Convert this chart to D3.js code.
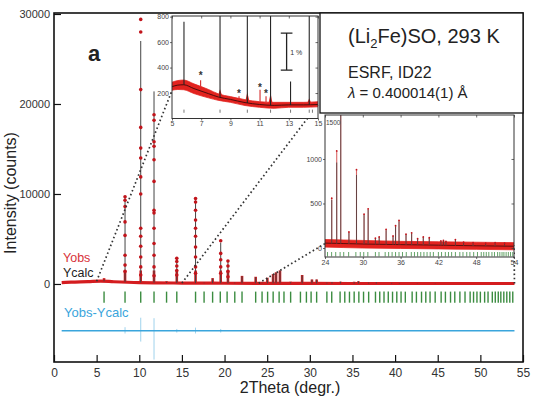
<html>
<head>
    <meta charset="utf-8">
    <title>(Li2Fe)SO powder pattern</title>
</head>
<style>
    body { margin: 0; background: #fff; }
    text { font-family: "Liberation Sans", Arial, sans-serif; }
</style>
<body>
<svg width="539" height="397"></svg>
<script src="https://d3js.org/d3.v7.min.js" charset="utf-8"></script>
<script>

    // ---------- main pattern ----------
    var xTicks = [0, 5, 10, 15, 20, 25, 30, 35, 40, 45, 50, 55];
    var yTicks = [0, 10000, 20000, 30000];

    var bgX   = [0.9, 2, 4, 5.5, 7, 10, 15, 20, 30, 40, 54];
    var bgObs = [150, 200, 260, 320, 250, 150, 100, 80, 60, 50, 50];

    var peakPos  = [5.87, 8.33, 10.17, 11.73, 13.2, 14.4, 16.6, 17.6, 18.6, 19.55, 20.4, 21.2, 22.05, 23.65, 24.4, 25.02, 25.69, 26.04, 26.5, 27.75, 29.1, 30.25, 30.8, 32.0, 32.6, 33.6, 35.2, 35.7, 36.9, 37.8, 39.6, 40.5, 42.6, 44.7];
    var peakCalc = [500, 9800, 27000, 21400, 250, 2800, 9300, 150, 600, 4600, 2450, 150, 850, 750, 150, 650, 1050, 1250, 1500, 200, 950, 480, 480, 150, 200, 250, 200, 300, 150, 180, 120, 100, 80, 90];
    var peakObs  = [650, 9700, 29400, 18800, 300, 2850, 9500, 200, 650, 4800, 2550, 200, 900, 800, 200, 700, 1100, 1300, 1550, 250, 1000, 500, 500, 200, 220, 250, 250, 300, 150, 180, 120, 100, 80, 90];

    // observed points read on the flanks of the strong peaks
    var dotPos  = [8.33, 10.17, 11.73, 14.4, 16.6, 19.55, 20.4];
    var dotVals = [
        [9700, 9300, 8600, 6900, 5400, 3200, 2100, 1400],
        [29400, 28000, 21600, 17400, 15100, 14000, 11900, 10000, 6200, 5300, 4200, 3000, 1900, 1000],
        [18800, 18200, 15800, 15300, 13800, 11400, 8200, 7900, 6200, 4500, 3200, 1900, 900],
        [2850, 2500, 2000, 1500, 1000],
        [9500, 9100, 8200, 7100, 6200, 5300, 4100, 3000, 1900, 1200],
        [4800, 3400, 2700, 1900, 1200],
        [2550, 2000, 1400, 800]
    ];

    // difference curve (offset) and its spikes
    var diffOffset = -5200;
    var diffX   = [0.9, 54];
    var diffPos = [8.33, 10.17, 11.73, 14.4, 16.6, 19.55];
    var diffUp  = [400, 1450, 1400, 200, 350, 200];
    var diffDn  = [-300, -1200, -3200, -200, -300, -200];

    // Bragg reflection markers
    var reflPos = [5.87, 8.33, 10.17, 11.73, 13.2, 14.4, 16.6, 17.6, 18.6, 19.5, 20.3, 21.2, 22.05, 23.65, 24.4, 25.05, 25.7, 26.4, 26.97, 27.75,
        28.9, 29.6, 30.15, 30.8, 32.0, 32.57, 33.55, 34.1, 34.65, 35.2, 35.75, 36.3, 36.9, 37.7, 38.2, 38.7, 39.2, 39.7, 40.2, 40.7, 41.2,
        42.0, 42.5, 43.1, 43.6, 44.1, 44.7, 45.4, 45.9, 46.5, 47.0, 47.6, 48.2, 48.8, 49.2, 49.6, 50.0, 50.5, 50.9,
        51.4, 51.75, 52.1, 52.4, 52.75, 53.1, 53.45, 53.8];

    // ---------- inset 1 (5-15 deg) ----------
    var in1XTicks = [5, 7, 9, 11, 13, 15];
    var in1YTicks = [200, 400, 600, 800];
    var in1BandX  = [5, 5.4, 5.8, 6.5, 7.5, 8.2, 9, 10, 11, 12, 13, 14, 15];
    var in1BandHi = [285, 298, 302, 272, 228, 192, 172, 148, 132, 127, 127, 127, 132];
    var in1BandLo = [222, 228, 226, 196, 162, 142, 127, 102, 88, 80, 88, 88, 92];
    var in1Calc   = [250, 262, 265, 235, 195, 168, 150, 125, 110, 103, 107, 107, 110];
    var in1Pos    = [5.82, 8.29, 10.16, 11.75, 13.12, 14.4];
    var in1H      = [760, 900, 900, 900, 290, 900];
    var in1BumpPos = [8.29, 10.16, 11.75, 14.4];
    var in1BumpH   = [50, 70, 80, 40];
    var in1StarPos = [6.96, 9.59, 11.03, 11.44];
    var in1StarTop = [300, 175, 225, 175];
    var in1StarY   = [340, 200, 245, 197];
    var in1Refl    = [5.82, 8.29, 10.16, 11.75, 13.12, 14.4, 14.62];

    // ---------- inset 2 (24-54 deg) ----------
    var in2XTicks = [24, 30, 36, 42, 48, 54];
    var in2YTicks = [0, 500, 1000];
    var in2BandX  = [24, 27, 30, 36, 42, 48, 54];
    var in2BandHi = [95, 90, 85, 75, 70, 65, 60];
    var in2BandLo = [10, 5, 0, -5, -10, -15, -20];
    var in2Calc   = [55, 50, 45, 38, 32, 25, 20];
    var in2Pos  = [25.07, 25.86, 26.5, 27.8, 29.0, 30.2, 30.85, 32.0, 32.6, 33.7, 34.8, 35.2, 35.75, 36.86, 37.75, 38.7, 39.6, 40.55, 42.4, 42.8, 43.2, 44.7, 46.0, 47.5, 49.5, 51.0, 52.5];
    var in2CalcH = [540, 960, 1600, 170, 820, 370, 430, 100, 120, 200, 130, 240, 300, 150, 165, 100, 120, 110, 75, 80, 70, 90, 60, 55, 50, 55, 50];
    var in2ObsH  = [560, 1090, 1600, 180, 880, 380, 440, 110, 125, 210, 135, 250, 310, 155, 170, 105, 125, 115, 80, 85, 75, 95, 65, 60, 55, 60, 55];

    var RED = '#d41c1f', DOT = '#c1141b', BLK = '#262626', GRN = '#3b8c40', BLU = '#3aa5dc';
    var FONT = '"Liberation Sans", Arial, sans-serif';
    var fmt = d3.format('d');

    function interp(xs, ys, p) {
        var i = d3.bisectRight(xs, p);
        if (i <= 0) return ys[0];
        if (i >= xs.length) return ys[ys.length - 1];
        var t = (p - xs[i - 1]) / (xs[i] - xs[i - 1]);
        return ys[i - 1] + t * (ys[i] - ys[i - 1]);
    }

    var svg = d3.select('svg');
    var x = d3.scaleLinear().domain([0, 55]).range([54, 523]);
    var y = d3.scaleLinear().domain([-8670, 30110]).range([362, 13]);

    // axes (ticks inward)
    var gx = svg.append('g').attr('transform', 'translate(0,362)');
    gx.call(d3.axisBottom(x).tickValues(d3.range(1, 55)).tickSize(-3.5).tickFormat(''));
    gx.call(d3.axisBottom(x).tickValues(xTicks).tickSize(-7).tickPadding(6).tickFormat(fmt));
    var gy = svg.append('g').attr('transform', 'translate(54,0)');
    gy.call(d3.axisLeft(y).tickValues(d3.range(1000, 30001, 1000)).tickSize(-3).tickFormat(''));
    gy.call(d3.axisLeft(y).tickValues([5000, 15000, 25000]).tickSize(-5).tickFormat(''));
    gy.call(d3.axisLeft(y).tickValues(yTicks).tickSize(-7).tickPadding(4).tickFormat(fmt));
    svg.selectAll('.domain').remove();
    svg.selectAll('.tick line').attr('stroke', '#111').attr('stroke-width', 1.2);
    gx.selectAll('text').attr('font-size', 12).attr('fill', '#333').attr('font-family', FONT);
    gy.selectAll('text').attr('font-size', 11).attr('fill', '#333').attr('font-family', FONT);

    svg.append('rect')
        .attr('x', x(0)).attr('y', y(30110))
        .attr('width', x(55) - x(0)).attr('height', y(-8670) - y(30110))
        .attr('fill', 'none').attr('stroke', '#111').attr('stroke-width', 1.6);

    // reflection markers
    svg.append('g').selectAll('line').data(reflPos).enter().append('line')
        .attr('x1', d => x(d)).attr('x2', d => x(d))
        .attr('y1', y(-850)).attr('y2', y(-2080))
        .attr('stroke', GRN).attr('stroke-width', 1.4);

    // difference curve
    svg.append('line')
        .attr('x1', x(diffX[0])).attr('x2', x(diffX[1]))
        .attr('y1', y(diffOffset)).attr('y2', y(diffOffset))
        .attr('stroke', BLU).attr('stroke-width', 1.7);
    svg.append('g').selectAll('line').data(diffPos).enter().append('line')
        .attr('x1', d => x(d)).attr('x2', d => x(d))
        .attr('y1', (d, i) => y(diffOffset + diffUp[i]))
        .attr('y2', (d, i) => y(diffOffset + diffDn[i]))
        .attr('stroke', BLU).attr('stroke-width', 0.8).attr('opacity', 0.6);

    // observed baseline
    var bgPts = bgX.map((d, i) => [d, bgObs[i]]);
    svg.append('path')
        .attr('d', d3.line().x(d => x(d[0])).y(d => y(d[1])).curve(d3.curveMonotoneX)(bgPts))
        .attr('fill', 'none').attr('stroke', RED).attr('stroke-width', 3.2);

    // observed peak bodies
    svg.append('g').selectAll('line').data(peakPos).enter().append('line')
        .attr('x1', d => x(d)).attr('x2', d => x(d))
        .attr('y1', d => y(interp(bgX, bgObs, d)))
        .attr('y2', (d, i) => y(Math.min(peakObs[i], 1500)))
        .attr('stroke', RED).attr('stroke-width', 2.6);

    // calculated peaks
    svg.append('g').selectAll('line').data(peakPos).enter().append('line')
        .attr('x1', d => x(d)).attr('x2', d => x(d))
        .attr('y1', d => y(interp(bgX, bgObs, d)))
        .attr('y2', (d, i) => y(peakCalc[i]))
        .attr('stroke', '#444').attr('stroke-width', 1);

    // observed points on strong peaks
    dotPos.forEach(function (p, k) {
        svg.append('g').selectAll('circle').data(dotVals[k]).enter().append('circle')
            .attr('cx', x(p)).attr('cy', d => y(d)).attr('r', 1.8)
            .attr('fill', DOT);
    });

    // ---------- dotted zoom lines (under insets) ----------
    var ix1 = d3.scaleLinear().domain([5, 15]).range([172, 318]);
    var iy1 = d3.scaleLinear().domain([0, 805]).range([118.5, 16]);
    var ix2 = d3.scaleLinear().domain([24, 54]).range([325, 514]);
    var iy2 = d3.scaleLinear().domain([-101, 1494]).range([257, 115]);

    var zoomLines = [
        [x(5), y(300), ix1(5), iy1(220)],
        [x(15), y(100), ix1(15), iy1(110)],
        [x(24), y(80), ix2(24), iy2(50)],
        [x(54), y(50), ix2(54), iy2(30)]
    ];
    svg.append('g').selectAll('line').data(zoomLines).enter().append('line')
        .attr('x1', d => d[0]).attr('y1', d => d[1]).attr('x2', d => d[2]).attr('y2', d => d[3])
        .attr('stroke', '#333').attr('stroke-width', 1.7).attr('stroke-dasharray', '1.6,2.6');

    // ---------- labels ----------
    svg.append('text').attr('x', 88).attr('y', 61).attr('font-size', 22).attr('font-weight', 'bold')
        .attr('fill', '#222').text('a');
    svg.append('text').attr('x', 63).attr('y', 262).attr('font-size', 12.5).attr('fill', '#d8323a').text('Yobs');
    svg.append('text').attr('x', 63).attr('y', 277).attr('font-size', 12.5).attr('fill', '#222').text('Ycalc');
    svg.append('text').attr('x', 64).attr('y', 317).attr('font-size', 13).attr('fill', BLU).text('Yobs-Ycalc');
    svg.append('text').attr('transform', 'translate(16,193) rotate(-90)').attr('text-anchor', 'middle')
        .attr('font-size', 16).attr('fill', '#222').text('Intensity (counts)');
    svg.append('text').attr('x', 290).attr('y', 393).attr('text-anchor', 'middle')
        .attr('font-size', 16).attr('fill', '#222').text('2Theta (degr.)');

    // annotation box
    svg.append('rect').attr('x', 320).attr('y', 13).attr('width', 203).attr('height', 100)
        .attr('fill', '#fff').attr('stroke', '#111').attr('stroke-width', 1.3);
    var t1 = svg.append('text').attr('x', 348).attr('y', 43).attr('font-size', 20).attr('fill', '#222');
    t1.append('tspan').text('(Li');
    t1.append('tspan').attr('font-size', 13).attr('dy', 5).text('2');
    t1.append('tspan').attr('dy', -5).text('Fe)SO, 293 K');
    svg.append('text').attr('x', 348).attr('y', 78).attr('font-size', 16).attr('fill', '#222').text('ESRF, ID22');
    var t3 = svg.append('text').attr('x', 348).attr('y', 98).attr('font-size', 15).attr('fill', '#222');
    t3.append('tspan').attr('font-style', 'italic').text('λ');
    t3.append('tspan').text(' = 0.400014(1) Å');

    // ---------- inset helper ----------
    function insetFrame(id, ix, iy, xt, yt) {
        var g = svg.append('g');
        var x0 = ix.range()[0], x1 = ix.range()[1], y0 = iy.range()[1], y1 = iy.range()[0];
        g.append('rect').attr('x', x0).attr('y', y0).attr('width', x1 - x0).attr('height', y1 - y0).attr('fill', '#fff');
        svg.append('clipPath').attr('id', id).append('rect')
            .attr('x', x0).attr('y', y0).attr('width', x1 - x0).attr('height', y1 - y0);
        var body = g.append('g').attr('clip-path', 'url(#' + id + ')');
        var ax = g.append('g');
        ax.append('g').attr('transform', 'translate(0,' + y1 + ')').call(d3.axisBottom(ix).tickValues(xt).tickSize(2).tickPadding(1).tickFormat(fmt));
        ax.append('g').attr('transform', 'translate(0,' + y0 + ')').call(d3.axisTop(ix).tickValues(xt).tickSize(-2.5).tickFormat(''));
        ax.append('g').attr('transform', 'translate(' + x0 + ',0)').call(d3.axisLeft(iy).tickValues(yt).tickSize(2).tickPadding(1).tickFormat(fmt));
        ax.append('g').attr('transform', 'translate(' + x1 + ',0)').call(d3.axisRight(iy).tickValues(yt).tickSize(-2.5).tickFormat(''));
        ax.selectAll('.domain').remove();
        ax.selectAll('.tick line').attr('stroke', '#444').attr('stroke-width', 0.8);
        ax.selectAll('text').attr('font-size', 7).attr('fill', '#444').attr('font-family', FONT);
        g.append('rect').attr('x', x0).attr('y', y0).attr('width', x1 - x0).attr('height', y1 - y0)
            .attr('fill', 'none').attr('stroke', '#333').attr('stroke-width', 1);
        return body;
    }

    // ---------- inset 1 ----------
    var b1 = insetFrame('clip1', ix1, iy1, in1XTicks, in1YTicks);
    var band1 = in1BandX.map((d, i) => ({x: d, lo: in1BandLo[i], hi: in1BandHi[i], c: in1Calc[i]}));
    b1.append('path')
        .attr('d', d3.area().x(d => ix1(d.x)).y0(d => iy1(d.lo)).y1(d => iy1(d.hi)).curve(d3.curveMonotoneX)(band1))
        .attr('fill', '#e2231f').attr('stroke', '#e2231f').attr('stroke-width', 0.8);
    b1.append('g').selectAll('path').data(in1BumpPos).enter().append('path')
        .attr('d', function (d, i) {
            var base = interp(in1BandX, in1BandHi, d) - 10;
            return 'M' + ix1(d - 0.14) + ',' + iy1(base) + 'L' + ix1(d) + ',' + iy1(base + in1BumpH[i]) + 'L' + ix1(d + 0.14) + ',' + iy1(base) + 'Z';
        })
        .attr('fill', '#e2231f');
    b1.append('path')
        .attr('d', d3.line().x(d => ix1(d.x)).y(d => iy1(d.c)).curve(d3.curveMonotoneX)(band1))
        .attr('fill', 'none').attr('stroke', '#3a0a0a').attr('stroke-width', 0.9);
    b1.append('g').selectAll('line').data(in1Pos).enter().append('line')
        .attr('x1', d => ix1(d)).attr('x2', d => ix1(d))
        .attr('y1', d => iy1(interp(in1BandX, in1Calc, d)))
        .attr('y2', (d, i) => iy1(in1H[i]))
        .attr('stroke', BLK).attr('stroke-width', 1.1);
    b1.append('g').selectAll('line').data(in1StarPos).enter().append('line')
        .attr('x1', d => ix1(d)).attr('x2', d => ix1(d))
        .attr('y1', d => iy1(interp(in1BandX, in1BandHi, d)))
        .attr('y2', (d, i) => iy1(in1StarTop[i]))
        .attr('stroke', '#d42a2a').attr('stroke-width', 1.1);
    b1.append('g').selectAll('text').data(in1StarPos).enter().append('text')
        .attr('x', d => ix1(d)).attr('y', (d, i) => iy1(in1StarY[i]) + 4)
        .attr('text-anchor', 'middle').attr('font-size', 10).attr('font-weight', 'bold').attr('fill', '#333')
        .text('*');
    b1.append('g').selectAll('line').data(in1Refl).enter().append('line')
        .attr('x1', d => ix1(d)).attr('x2', d => ix1(d))
        .attr('y1', iy1(45)).attr('y2', iy1(70))
        .attr('stroke', '#555').attr('stroke-width', 0.8);
    // 1 % scale bar
    b1.append('path')
        .attr('d', 'M' + ix1(12.45) + ',' + iy1(670) + 'H' + ix1(13.25) +
            'M' + ix1(12.85) + ',' + iy1(670) + 'V' + iy1(380) +
            'M' + ix1(12.45) + ',' + iy1(380) + 'H' + ix1(13.25))
        .attr('fill', 'none').attr('stroke', '#222').attr('stroke-width', 1.3);
    b1.append('text').attr('x', ix1(13.1)).attr('y', iy1(525) + 3)
        .attr('font-size', 7).attr('fill', '#333').text('1 %');

    // ---------- inset 2 ----------
    var b2 = insetFrame('clip2', ix2, iy2, in2XTicks, in2YTicks);
    var band2 = in2BandX.map((d, i) => ({x: d, lo: in2BandLo[i], hi: in2BandHi[i], c: in2Calc[i]}));
    b2.append('path')
        .attr('d', d3.area().x(d => ix2(d.x)).y0(d => iy2(d.lo)).y1(d => iy2(d.hi)).curve(d3.curveMonotoneX)(band2))
        .attr('fill', '#e2231f').attr('stroke', '#e2231f').attr('stroke-width', 0.8);
    b2.append('path')
        .attr('d', d3.line().x(d => ix2(d.x)).y(d => iy2(d.c)).curve(d3.curveMonotoneX)(band2))
        .attr('fill', 'none').attr('stroke', '#3a0a0a').attr('stroke-width', 0.8);
    b2.append('g').selectAll('line').data(in2Pos).enter().append('line')
        .attr('x1', d => ix2(d)).attr('x2', d => ix2(d))
        .attr('y1', d => iy2(interp(in2BandX, in2Calc, d)))
        .attr('y2', (d, i) => iy2(in2ObsH[i]))
        .attr('stroke', '#d04040').attr('stroke-width', 1.1).attr('opacity', 0.8);
    b2.append('g').selectAll('line').data(in2Pos).enter().append('line')
        .attr('x1', d => ix2(d)).attr('x2', d => ix2(d))
        .attr('y1', d => iy2(interp(in2BandX, in2Calc, d)))
        .attr('y2', (d, i) => iy2(in2CalcH[i]))
        .attr('stroke', '#333').attr('stroke-width', 0.7);
    b2.append('g').selectAll('circle').data(in2Pos).enter().append('circle')
        .attr('cx', d => ix2(d)).attr('cy', (d, i) => iy2(in2ObsH[i])).attr('r', 0.9)
        .attr('fill', DOT);
    b2.append('g').selectAll('line').data(reflPos.filter(d => d >= 24)).enter().append('line')
        .attr('x1', d => ix2(d)).attr('x2', d => ix2(d))
        .attr('y1', iy2(-45)).attr('y2', iy2(-95))
        .attr('stroke', GRN).attr('stroke-width', 0.8);
    svg.append('text').attr('x', 326).attr('y', 125)
        .attr('font-size', 6.5).attr('fill', '#444').text('1500');

</script>
</body>
</html>
